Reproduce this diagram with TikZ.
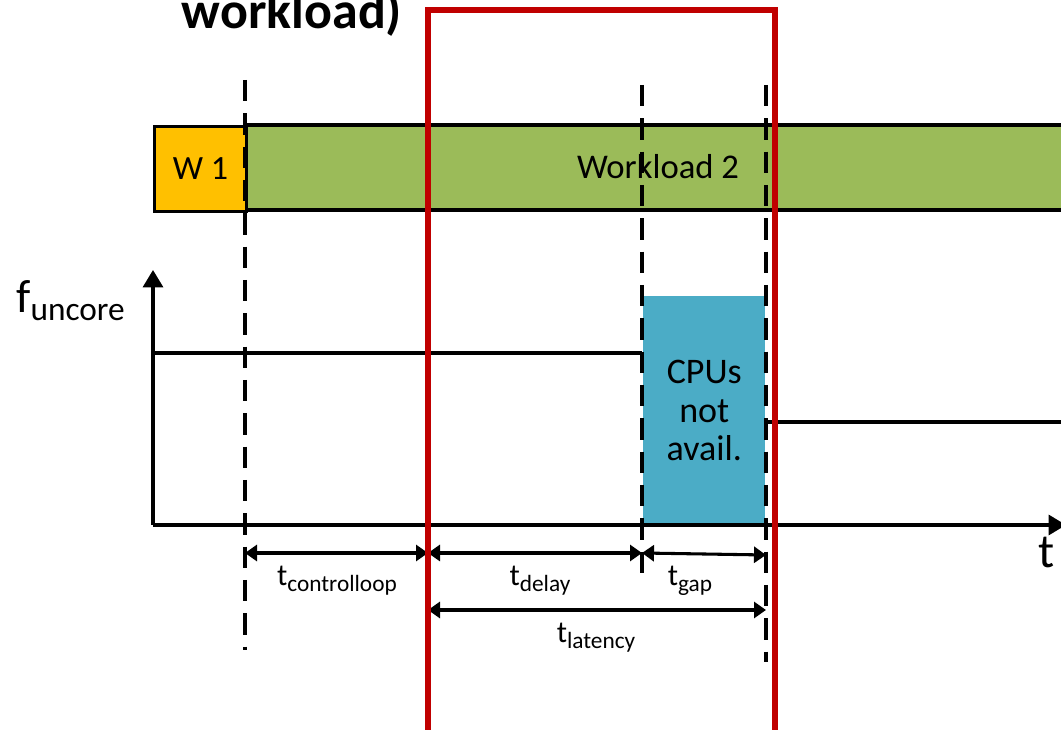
\documentclass[tikz,border=0pt]{standalone}
\usepackage{fontspec}
\setmainfont{Carlito}
\usetikzlibrary{arrows.meta}
\definecolor{wone}{HTML}{FFC000}
\definecolor{wtwo}{HTML}{9BBB59}
\definecolor{cpu}{HTML}{4BACC6}
\definecolor{redbox}{HTML}{C00000}
\tikzset{
  px/.style={x=0.75pt,y=-0.75pt},
  ln/.style={line width=2.3pt,black},
  dsh/.style={line width=2.3pt,dash pattern=on 16pt off 9pt},
  dim/.style={line width=2.3pt,{Triangle[length=9pt,width=12pt]}-{Triangle[length=9pt,width=12pt]}},
  lbl/.style={font=\fontsize{23}{26}\selectfont,inner sep=0pt},
}
\newcommand{\subtx}[1]{\raisebox{-4.5pt}{\fontsize{17.5}{20}\selectfont #1}}
\begin{document}
\begin{tikzpicture}[px]
\useasboundingbox (0,0) rectangle (1061,730);
% title fragment
\node[anchor=base,inner sep=0pt,font=\fontsize{39}{44}\selectfont\bfseries] (title) at (292,29) {workload)};
% workload bar
\fill[wtwo] (245,125) rectangle (1070,210);
\draw[ln] (245,125) -- (1070,125) (245,210) -- (1070,210);
\node[draw,ln,fill=wone,minimum width=92*0.75pt,minimum height=85*0.75pt,anchor=north west,inner sep=0pt,font=\fontsize{25.5}{30}\selectfont] (w1) at (153,125) {W 1};
\node[inner sep=0pt,font=\fontsize{26}{30}\selectfont] (w2) at (658,167) {Workload 2};
% blue box
\node[fill=cpu,minimum width=122*0.75pt,minimum height=229*0.75pt,anchor=north west,inner sep=0pt,align=center,font=\fontsize{27}{29}\selectfont] (cpu) at (643,296) {CPUs\\not\\avail.};
% coordinates
\coordinate (o) at (153,525);
\coordinate (ytop) at (153,270);
\coordinate (xend) at (1066,525);
\coordinate (l1a) at (153,353);
\coordinate (l1b) at (642,353);
\coordinate (l2a) at (766,422);
\coordinate (l2b) at (1061,422);
% dashed lines
\coordinate (d1t) at (245,80); \coordinate (d1b) at (245,650);
\coordinate (d2t) at (642,85); \coordinate (d2b) at (642,582);
\coordinate (d3t) at (766,85); \coordinate (d3b) at (766,662);
\draw[dsh] (d1t) -- (d1b);
\draw[dsh] (d2t) -- (d2b);
\draw[dsh] (d3t) -- (d3b);
% axes
\draw[ln,-{Triangle[length=13pt,width=15pt]}] (o) -- (ytop);
\draw[ln,-{Triangle[length=13pt,width=15pt]}] (o) -- (xend);
\draw[ln] (l1a) -- (l1b);
\draw[ln] (l2a) -- (l2b);
\node[inner sep=0pt,anchor=base west] (fu) at (16,313) {\fontsize{35}{38}\selectfont f\raisebox{-6pt}{\fontsize{25}{28}\selectfont uncore}};
\node[inner sep=0pt,font=\fontsize{36}{40}\selectfont] (tax) at (1047,553) {t};
% dimension arrows
\coordinate (a0) at (245,553);
\coordinate (a1) at (428,553);
\coordinate (a2) at (642,553);
\coordinate (a3) at (766,555);
\coordinate (b0) at (428,610);
\coordinate (b1) at (766,610);
\draw[dim] (a0) -- (a1);
\draw[dim] (a1) -- (a2);
\draw[dim] (a2) -- (a3);
\draw[dim] (b0) -- (b1);
\node[lbl,anchor=base] (lc) at (337,586) {t\subtx{controlloop}};
\node[lbl,anchor=base] (ld) at (540,586) {t\subtx{delay}};
\node[lbl,anchor=base] (lg) at (690,586) {t\subtx{gap}};
\node[lbl,anchor=base] (ll) at (596,643) {t\subtx{latency}};
% red box
\draw[redbox,line width=3.8pt] (428,740) -- (428,10) -- (775,10) -- (775,740);
\end{tikzpicture}
\end{document}
